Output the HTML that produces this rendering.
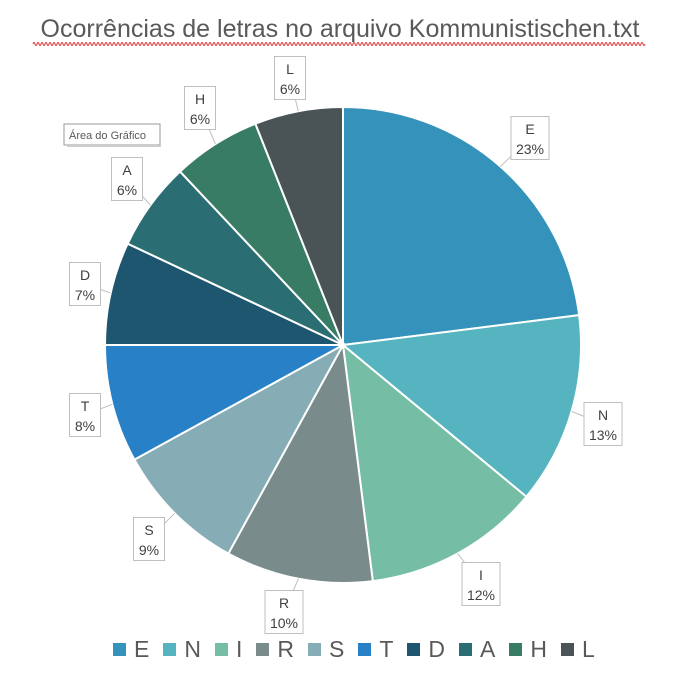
<!DOCTYPE html>
<html><head><meta charset="utf-8"><style>
body{margin:0;background:#fff;font-family:"Liberation Sans",sans-serif}
#wrap{position:relative;width:680px;height:689px;overflow:hidden}
</style></head><body>
<div id="wrap">
<svg id="svg" width="680" height="689">
<text x="340" y="37" text-anchor="middle" font-size="25" fill="#595959" font-family="Liberation Sans, sans-serif">Ocorrências de letras no arquivo Kommunistischen.txt</text>
<path id="squig" fill="none" stroke="#e03030" stroke-width="1"/>
<g id="slices"></g><g id="labels"></g>
<g>
<rect x="64" y="124" width="96" height="21" fill="#fff" stroke="#999" stroke-width="1"/>
<line x1="67" y1="146" x2="161" y2="146" stroke="#ccc" stroke-width="2"/>
<text x="69" y="139" font-size="11" fill="#595959">Área do Gráfico</text></g>
</svg>
<div id="legend" style="position:absolute;left:113px;top:636px;display:flex;align-items:center;font-size:23px;color:#595959"></div>
</div>
<script>
const categories=["E","N","I","R","S","T","D","A","H","L"];
const values=[23,13,12,10,9,8,7,6,6,6];
const colors=["#3492bb","#56b4c0","#75bea5","#7a8b8b","#86acb5","#2880c6","#1e566f","#2a6e73","#397c66","#4a5456"];
const labelPos=[[530,138],[603,424],[481,584],[284,612],[149,539],[85,415],[85,284],[127,179],[200,108],[290,78]];
const cx=343,cy=345,R=238,NS="http://www.w3.org/2000/svg";
let sq="M33 44";for(let x=33;x<645;x+=4)sq+=" q1 -3 2 0 q1 3 2 0";
document.getElementById('squig').setAttribute('d',sq);
const total=values.reduce((a,b)=>a+b,0);
const sl=document.getElementById('slices'),lb=document.getElementById('labels');
let a0=0;
function pt(a,r){return [cx+r*Math.sin(a),cy-r*Math.cos(a)];}
values.forEach((v,i)=>{
 const a1=a0+v/total*2*Math.PI;
 const p0=pt(a0,R),p1=pt(a1,R);
 const p=document.createElementNS(NS,'path');
 p.setAttribute('d',`M${cx},${cy}L${p0[0]},${p0[1]}A${R},${R} 0 ${a1-a0>Math.PI?1:0} 1 ${p1[0]},${p1[1]}Z`);
 p.setAttribute('fill',colors[i]);p.setAttribute('stroke','#fff');p.setAttribute('stroke-width','2');
 
 
 sl.appendChild(p);
 const am=(a0+a1)/2,pe=pt(am,R);
 const [lx,ly]=labelPos[i];
 const g=document.createElementNS(NS,'g');
 
 
 const ln=document.createElementNS(NS,'line');
 ln.setAttribute('x1',lx);ln.setAttribute('y1',ly);ln.setAttribute('x2',pe[0]);ln.setAttribute('y2',pe[1]);
 ln.setAttribute('stroke','#bfbfbf');g.appendChild(ln);
 const pct=Math.round(v/total*100)+'%';
 const w=pct.length>2?38:31,h=43;
 const r=document.createElementNS(NS,'rect');
 r.setAttribute('x',lx-w/2);r.setAttribute('y',ly-h/2);r.setAttribute('width',w);r.setAttribute('height',h);
 r.setAttribute('fill','#fff');r.setAttribute('stroke','#bfbfbf');g.appendChild(r);
 [[categories[i],-4],[pct,16]].forEach(([t,dy])=>{
  const tx=document.createElementNS(NS,'text');
  tx.setAttribute('x',lx);tx.setAttribute('y',ly+dy);tx.setAttribute('text-anchor','middle');
  tx.setAttribute('font-size','14');tx.setAttribute('fill','#404040');tx.textContent=t;g.appendChild(tx);
 });
 lb.appendChild(g);
 a0=a1;
});
const lg=document.getElementById('legend');
categories.forEach((c,i)=>{
 const it=document.createElement('div');
 
 
 it.style.cssText='display:flex;align-items:center;margin-right:14px';
 it.innerHTML=`<span style="display:inline-block;width:13px;height:13px;background:${colors[i]};margin-right:8px"></span><span>${c}</span>`;
 lg.appendChild(it);
});
</script>
</body></html>
